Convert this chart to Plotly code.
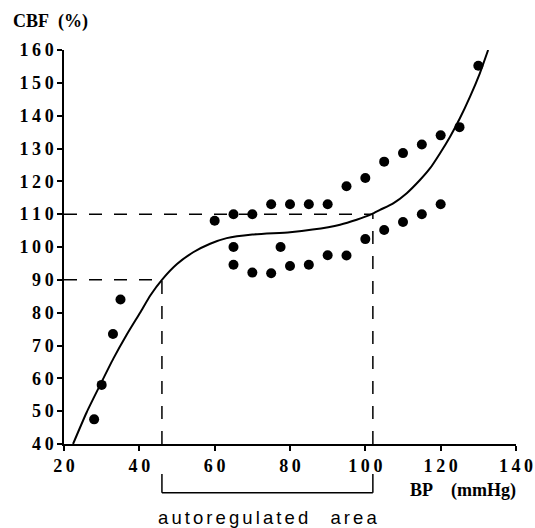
import plotly.graph_objects as go

# Measured cerebral blood flow (% of baseline) against blood pressure (mmHg)
bp_upper = [28, 30, 33, 35, 60, 65, 70, 75, 80, 85, 90, 95, 100, 105, 110, 115, 120, 125, 130]
cbf_upper = [47.5, 58, 73.5, 84, 108, 110, 110, 113, 113, 113, 113, 118.5, 121, 126, 128.6, 131.2, 134, 136.5, 155.2]

bp_lower = [65, 65, 70, 75, 77.5, 80, 85, 90, 95, 100, 105, 110, 115, 120]
cbf_lower = [100, 94.6, 92.2, 92, 100, 94.2, 94.6, 97.5, 97.4, 102.4, 105.2, 107.6, 110, 113]

# Fitted autoregulation curve
curve_bp = [22.4, 26.0, 29.6, 33.1, 36.6, 40.2, 43.0, 46.0, 50.0, 54.3, 58.8, 63.2, 70.0, 80.0,
            86.0, 93.3, 97.7, 101.7, 103.9, 107.4, 111.0, 114.5, 117.2, 119.8, 122.5, 125.1,
            127.8, 130.4, 132.6]
curve_cbf = [40.0, 49.6, 58.0, 66.0, 73.2, 80.0, 85.4, 90.0, 94.8, 98.4, 101.0, 102.7, 103.8, 104.5,
             105.3, 106.8, 108.3, 110.0, 111.3, 113.3, 116.4, 120.4, 124.0, 128.5, 133.6, 139.2,
             145.8, 152.9, 160.0]

# Limits of the autoregulated plateau
lower_limit_bp, lower_limit_cbf = 46, 90
upper_limit_bp, upper_limit_cbf = 102, 110

x_ticks = [20, 40, 60, 80, 100, 120, 140]
y_ticks = [40, 50, 60, 70, 80, 90, 100, 110, 120, 130, 140, 150, 160]


def spaced(s, sep):
    return sep.join(s)


serif_bold = dict(family="Liberation Serif", size=18, color="black", weight="bold")

fig = go.Figure()

fig.add_trace(go.Scatter(
    x=curve_bp, y=curve_cbf, mode="lines",
    line=dict(color="black", width=2, shape="spline", smoothing=0.6),
    hoverinfo="skip",
))
fig.add_trace(go.Scatter(
    x=bp_upper + bp_lower, y=cbf_upper + cbf_lower, mode="markers",
    marker=dict(color="black", size=10),
))

dash = dict(color="black", width=1.5, dash="13px,12px")
# dashed guides marking the plateau limits
fig.add_shape(type="line", x0=20, x1=upper_limit_bp, y0=upper_limit_cbf, y1=upper_limit_cbf, line=dash)
fig.add_shape(type="line", x0=20, x1=lower_limit_bp, y0=lower_limit_cbf, y1=lower_limit_cbf, line=dash)
fig.add_shape(type="line", x0=lower_limit_bp, x1=lower_limit_bp, y0=40, y1=lower_limit_cbf, line=dash)
fig.add_shape(type="line", x0=upper_limit_bp, x1=upper_limit_bp, y0=40, y1=upper_limit_cbf, line=dash)

# bracket under the axis spanning the autoregulated range
br_top, br_bot = -0.076, -0.124
solid = dict(color="black", width=1.5)
for xb in (lower_limit_bp, upper_limit_bp):
    fig.add_shape(type="line", xref="x", yref="paper", x0=xb, x1=xb, y0=br_top, y1=br_bot, line=solid)
fig.add_shape(type="line", xref="x", yref="paper", x0=lower_limit_bp, x1=upper_limit_bp,
              y0=br_bot, y1=br_bot, line=solid)

fig.add_annotation(text="CBF\u2002(%)", xref="paper", yref="paper", x=-0.118, y=1.073,
                   xanchor="left", yanchor="middle", showarrow=False, font=serif_bold)
fig.add_annotation(text="BP\u2003(mmHg)", xref="paper", yref="paper", x=1.005, y=-0.119,
                   xanchor="right", yanchor="middle", showarrow=False, font=serif_bold)
fig.add_annotation(text=spaced("autoregulated", "\u200a\u200a") + "\u2003\u2009" + spaced("area", "\u200a\u200a"),
                   xref="x", yref="paper", x=(lower_limit_bp + upper_limit_bp) / 2, y=-0.186,
                   xanchor="center", yanchor="middle", showarrow=False,
                   font=dict(family="Liberation Sans", size=18.5, color="black"))

fig.update_xaxes(
    range=[20, 140], tickvals=x_ticks, ticktext=[spaced(str(v), "\u2009") for v in x_ticks],
    showgrid=False, zeroline=False, showline=True, linecolor="black", linewidth=1.5,
    ticks="outside", ticklen=5, tickwidth=1.5, tickcolor="black", tickfont=serif_bold,
    automargin=False,
)
fig.update_yaxes(
    range=[40, 160], tickvals=y_ticks, ticktext=[spaced(str(v), "\u2009") for v in y_ticks],
    showgrid=False, zeroline=False, showline=True, linecolor="black", linewidth=1.5,
    ticks="outside", ticklen=5, tickwidth=1.5, tickcolor="black", tickfont=serif_bold,
    automargin=False,
)

fig.update_layout(
    width=535, height=528,
    margin=dict(l=64, r=19, t=50, b=84),
    plot_bgcolor="white", paper_bgcolor="white",
    showlegend=False,
)

fig.write_html("out.html")
